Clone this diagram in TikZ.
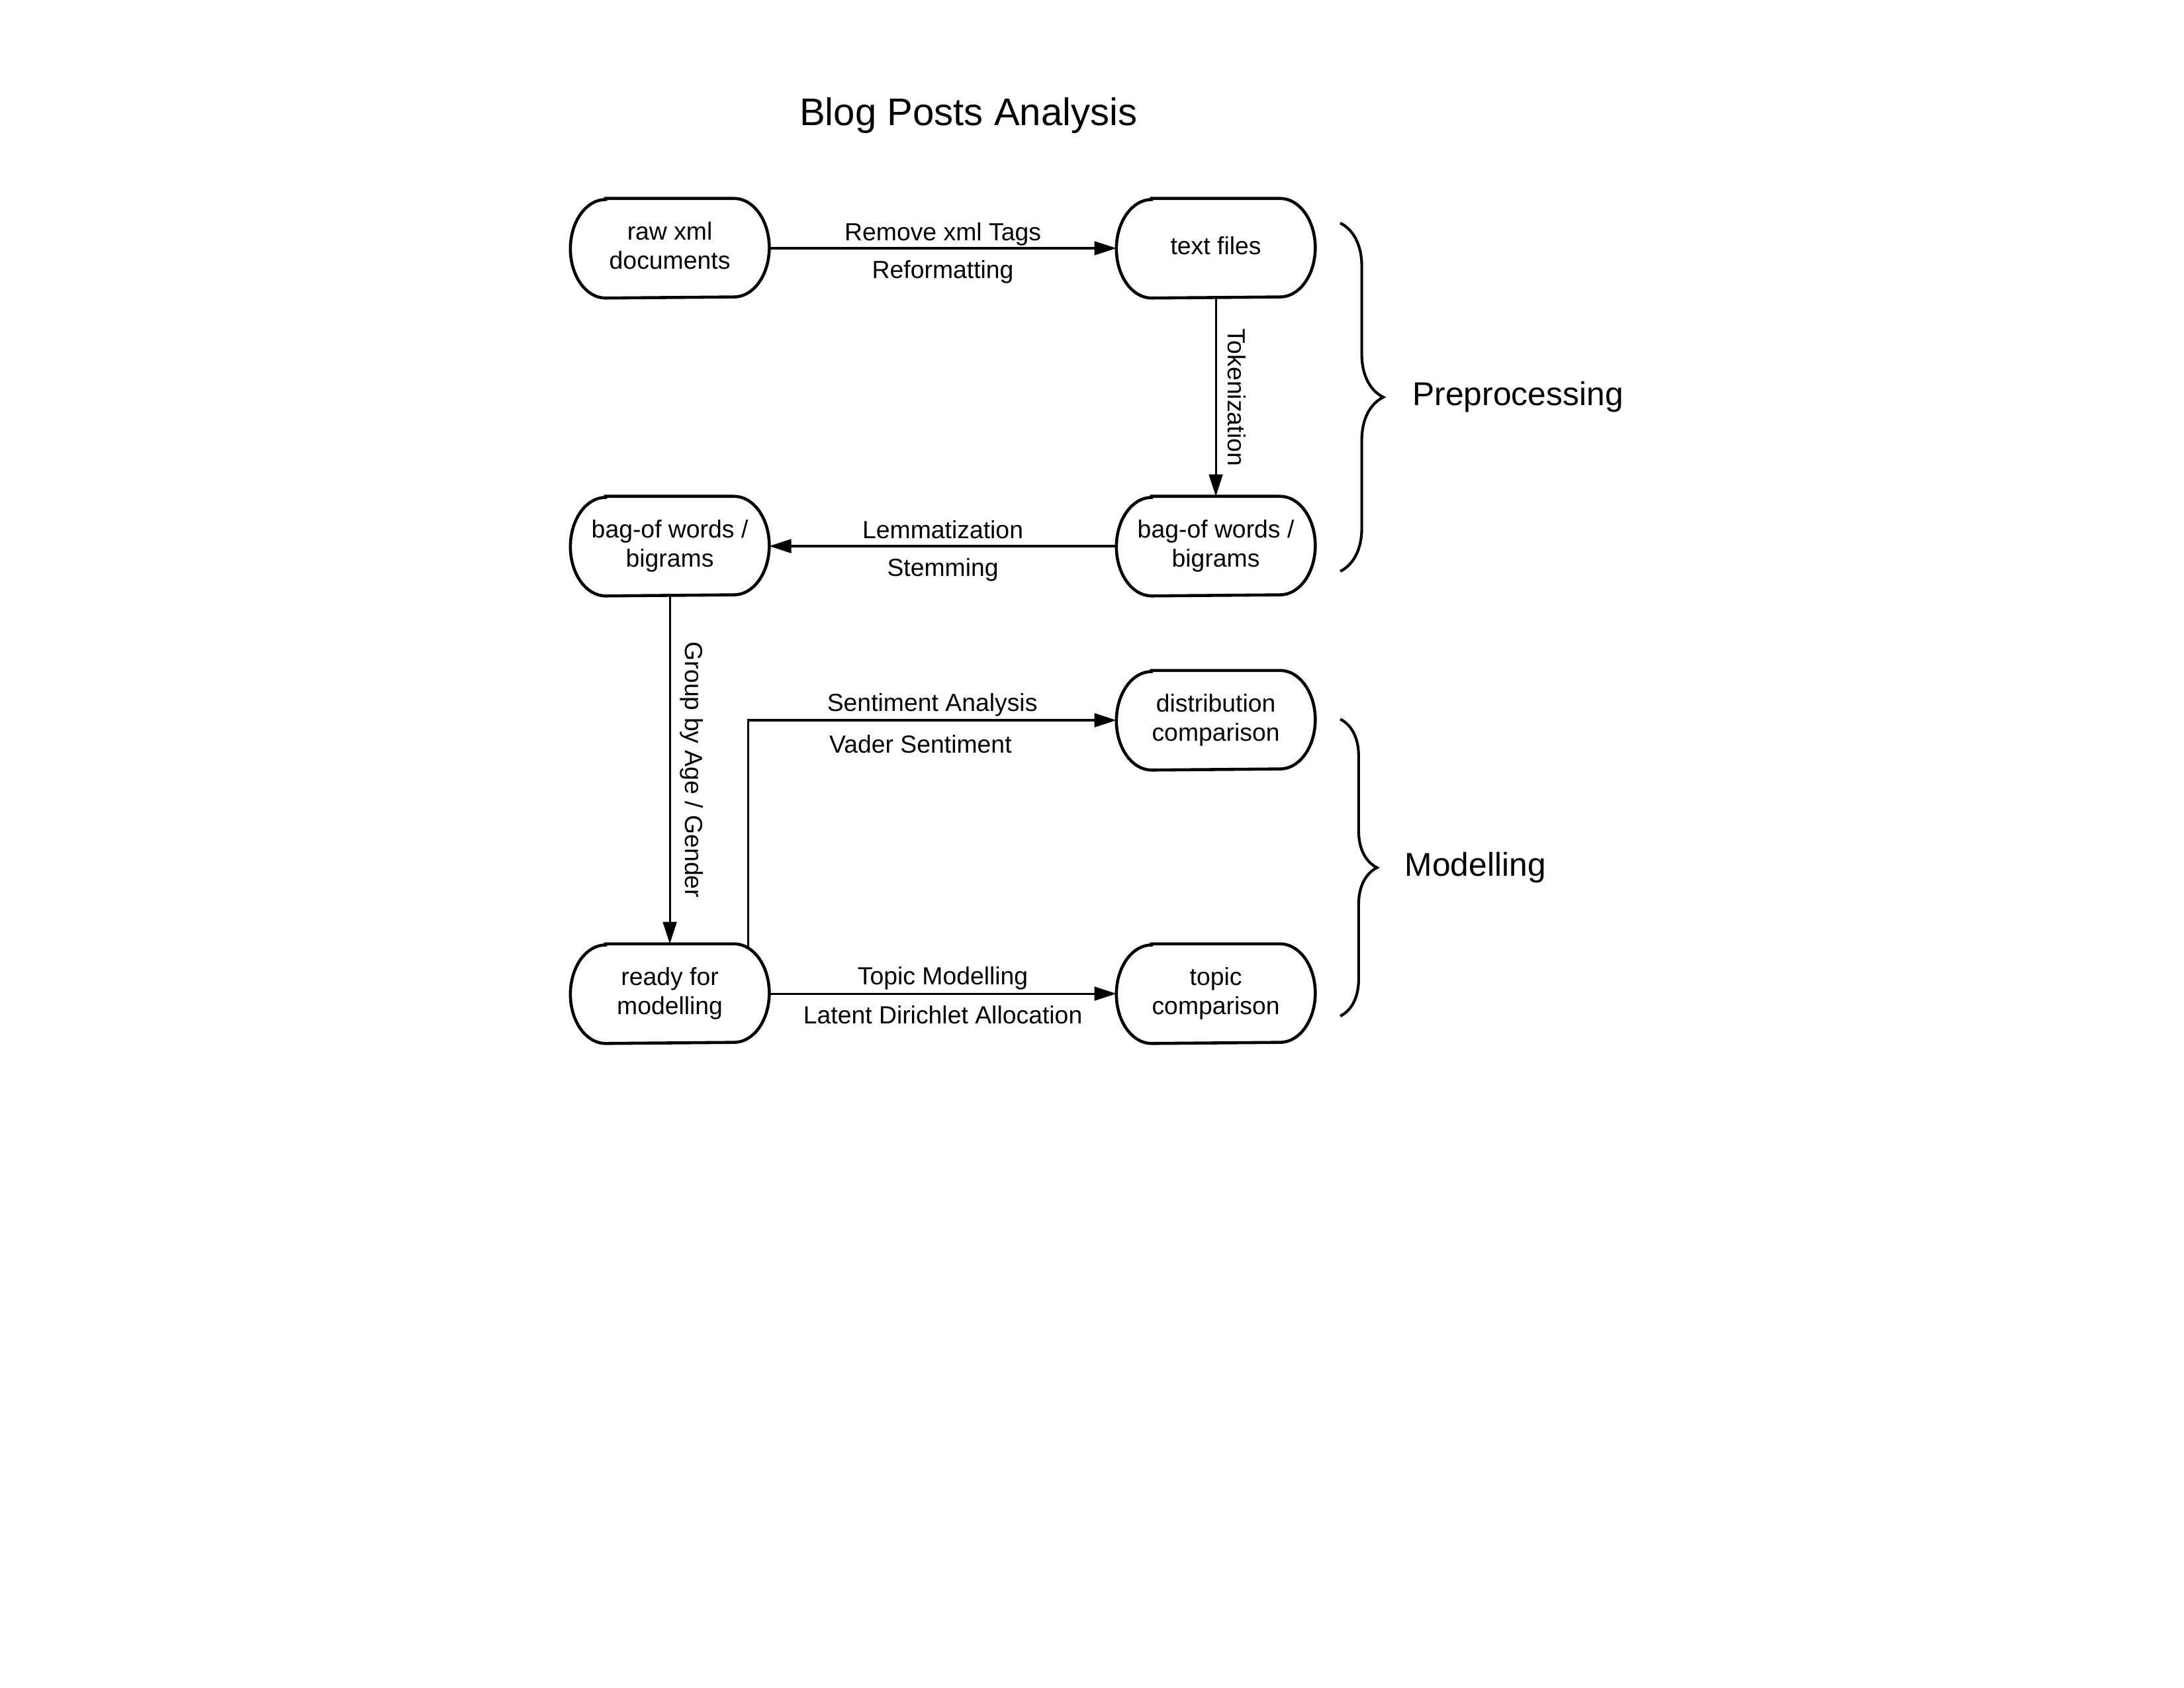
\documentclass[tikz,border=0pt]{standalone}
\usepackage{fontspec}
\setmainfont{Liberation Sans}
\usetikzlibrary{arrows.meta,decorations.pathreplacing}

\tikzset{
	stage/.style={minimum width=2.53cm, minimum height=1.26cm, inner sep=0pt, text depth=2pt, align=center, font=\fontsize{9}{10.6}\selectfont},
	flow/.style={line width=0.75pt, -{Triangle[length=8pt,width=5pt]}},
	uplabel/.style={midway, above, inner sep=0.5pt, text depth=2pt, font=\fontsize{9}{11}\selectfont},
	downlabel/.style={midway, below=2pt, inner sep=1.5pt, text height=7pt, font=\fontsize{9}{11}\selectfont},
	sidelabel/.style={midway, anchor=south, rotate=-90, font=\fontsize{9}{11}\selectfont},
	bracket/.style={decorate, decoration={brace, amplitude=#1}, line width=1pt},
	bracket/.default=0.55cm,
}

% outline of a stage box: flat top and bottom, elliptic ends
\newcommand\pillshape[1]{%
	\draw[line width=1.1pt] ([xshift=0.45cm]#1.north west) -- ([xshift=-0.45cm]#1.north east)
		arc[start angle=90, end angle=-90, x radius=0.45cm, y radius=0.63cm]
		-- ([xshift=0.45cm]#1.south west)
		arc[start angle=270, end angle=90, x radius=0.45cm, y radius=0.63cm] -- cycle;}

\begin{document}
\begin{tikzpicture}
	\useasboundingbox[fill=white] (0,0) rectangle (27.94,-21.59);

	\node[font=\fontsize{14}{16}\selectfont] (title) at (12.39,-1.48) {Blog Posts Analysis};

	\node[stage] (raw) at (8.569,-3.175) {raw xml\\documents};
	\node[stage] (text) at (15.554,-3.175) {text files};
	\node[stage] (bagR) at (15.554,-6.985) {bag-of words /\\bigrams};
	\node[stage] (bagL) at (8.569,-6.985) {bag-of words /\\bigrams};
	\node[stage] (dist) at (15.554,-9.212) {distribution\\comparison};
	\node[stage] (ready) at (8.569,-12.709) {ready for\\modelling};
	\node[stage] (topic) at (15.554,-12.709) {topic\\comparison};
	\foreach \n in {raw,text,bagR,bagL,dist,ready,topic}
		\pillshape{\n};

	\draw[flow] (raw) -- (text) node[uplabel]{Remove xml Tags} node[downlabel]{Reformatting};
	\draw[flow] (text) -- (bagR) node[sidelabel, inner sep=4pt]{Tokenization};
	\draw[flow] (bagR) -- (bagL) node[uplabel]{Lemmatization} node[downlabel]{Stemming};
	\draw[flow] (bagL) -- (ready) node[sidelabel]{Group by Age / Gender};
	\draw[flow] ([shift={(-0.27,-0.05)}]ready.north east) |- (dist)
		node[uplabel, pos=0.75, yshift=0.5pt]{Sentiment Analysis}
		node[downlabel, pos=0.75, yshift=-1pt, xshift=-0.15cm]{Vader Sentiment};
	\draw[flow] (ready) -- (topic) node[uplabel, yshift=0.5pt]{Topic Modelling} node[downlabel]{Latent Dirichlet Allocation};

	% phase braces
	\coordinate (preTop) at (17.146,-2.853);
	\coordinate (preBot) at (17.146,-7.307);
	\coordinate (modTop) at (17.146,-9.198);
	\coordinate (modBot) at (17.146,-12.996);
	\draw[bracket] (preTop) -- (preBot) node[midway, right=0.79cm, font=\fontsize{12}{14}\selectfont] (pre) {Preprocessing};
	\draw[bracket=0.47cm] (modTop) -- (modBot) node[midway, right=0.69cm, font=\fontsize{12}{14}\selectfont] (mod) {Modelling};
\end{tikzpicture}
\end{document}
